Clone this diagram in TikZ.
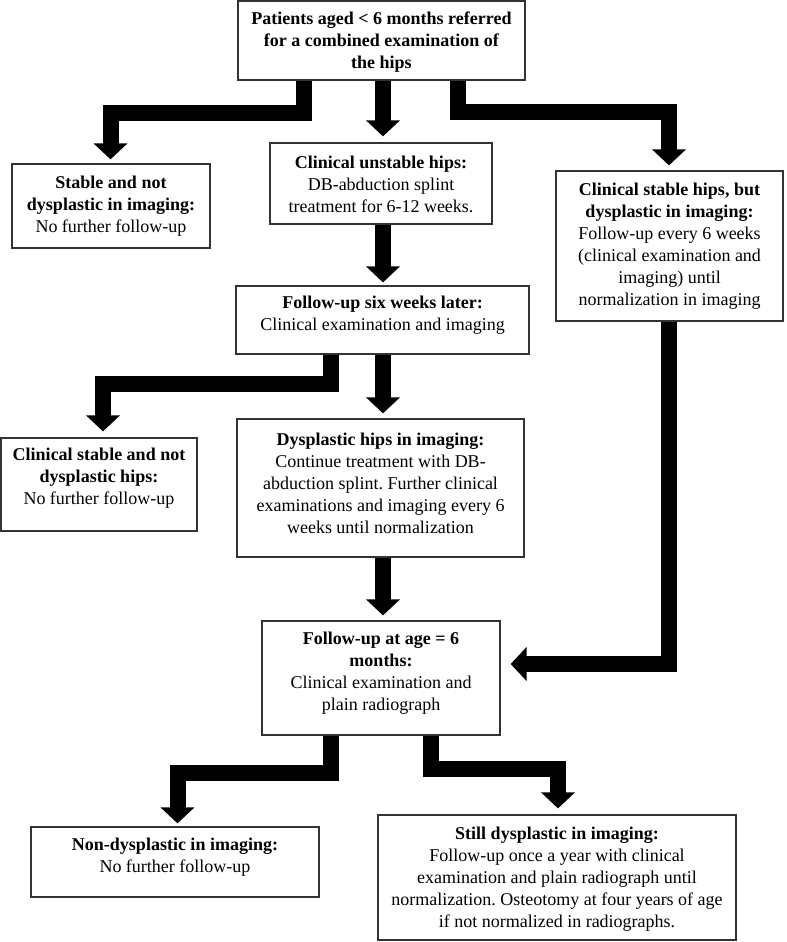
\documentclass[tikz,border=0pt]{standalone}
\usepackage{fontspec}
\setmainfont{Liberation Serif}
\usetikzlibrary{arrows.meta}
\frenchspacing
\begin{document}
\begin{tikzpicture}[x=0.75pt,y=-0.75pt,
  boxnode/.style={draw=black!80,line width=0.9pt,inner sep=0pt,fill=none},
  txt/.style={align=center,inner sep=0pt,font=\fontsize{13.5}{16.5}\selectfont},
  blk/.style={line width=12pt,line join=miter,-{Triangle[width=24.75pt,length=12pt]}}]
\useasboundingbox (0,0) rectangle (787,942);
% boxes
\node[boxnode,minimum width=287*0.75pt,minimum height=79*0.75pt] (top) at (381.5,40.5) {};
\node[boxnode,minimum width=198*0.75pt,minimum height=84*0.75pt] (stable) at (111,206) {};
\node[boxnode,minimum width=222*0.75pt,minimum height=81*0.75pt] (unstable) at (381,183.5) {};
\node[boxnode,minimum width=227*0.75pt,minimum height=150*0.75pt] (right) at (669.5,246) {};
\node[boxnode,minimum width=293*0.75pt,minimum height=68*0.75pt] (six) at (382.5,320) {};
\node[boxnode,minimum width=196*0.75pt,minimum height=93*0.75pt] (leftmid) at (99,484.5) {};
\node[boxnode,minimum width=287*0.75pt,minimum height=138*0.75pt] (dysp) at (380.5,488) {};
\node[boxnode,minimum width=238*0.75pt,minimum height=114*0.75pt] (sixm) at (381,678) {};
\node[boxnode,minimum width=288*0.75pt,minimum height=70*0.75pt] (nondys) at (175,862) {};
\node[boxnode,minimum width=358*0.75pt,minimum height=125*0.75pt] (still) at (557,877.5) {};
% texts
\node[txt] (ttop) at (381.5,42) {\textbf{Patients aged < 6 months referred}\\\textbf{for a combined examination of}\\\textbf{the hips}};
\node[txt] (tstable) at (111,206.5) {\textbf{Stable and not}\\\textbf{dysplastic in imaging:}\\No further follow-up};
\node[txt] (tunstable) at (381,184.5) {\textbf{Clinical unstable hips:}\\DB-abduction splint\\treatment for 6-12 weeks.};
\node[txt] (tright) at (669.5,246.5) {\textbf{Clinical stable hips, but}\\\textbf{dysplastic in imaging:}\\Follow-up every 6 weeks\\(clinical examination and\\imaging) until\\normalization in imaging};
\node[txt] (tsix) at (382.5,315.5) {\textbf{Follow-up six weeks later:}\\Clinical examination and imaging};
\node[txt] (tleftmid) at (99,478.5) {\textbf{Clinical stable and not}\\\textbf{dysplastic hips:}\\No further follow-up};
\node[txt] (tdysp) at (380.5,483) {\textbf{Dysplastic hips in imaging:}\\Continue treatment with DB-\\abduction splint. Further clinical\\examinations and imaging every 6\\weeks until normalization};
\node[txt] (tsixm) at (381,673) {\textbf{Follow-up at age = 6}\\\textbf{months:}\\Clinical examination and\\plain radiograph};
\node[txt] (tnondys) at (175,857) {\textbf{Non-dysplastic in imaging:}\\No further follow-up};
\node[txt] (tstill) at (557,879) {\textbf{Still dysplastic in imaging:}\\Follow-up once a year with clinical\\examination and plain radiograph until\\normalization. Osteotomy at four years of age\\if not normalized in radiographs.};
% bend coordinates
\coordinate (a1) at (303.5,113);
\coordinate (a2) at (110.5,113);
\coordinate (b1) at (383,0);
\coordinate (c1) at (457.5,111.5);
\coordinate (c2) at (669,111.5);
\coordinate (e1) at (330.5,383.5);
\coordinate (e2) at (103,383.5);
\coordinate (h1) at (669,664);
\coordinate (i1) at (330.5,772.5);
\coordinate (i2) at (177.5,772.5);
\coordinate (j1) at (430.5,769);
\coordinate (j2) at (558,769);
% arrows
\draw[blk,shorten >=3pt] (top.south -| a1) -- (a1) -- (a2) -- (stable.north -| a2);
\draw[blk,shorten >=4.5pt] (top.south -| b1) -- (unstable.north -| b1);
\draw[blk,shorten >=3.75pt] (top.south -| c1) -- (c1) -- (c2) -- (right.north -| c2);
\draw[blk,shorten >=2.25pt] (unstable.south -| b1) -- (six.north -| b1);
\draw[blk,shorten >=4.5pt] (six.south -| e1) -- (e1) -- (e2) -- (leftmid.north -| e2);
\draw[blk,shorten >=3.75pt] (six.south -| b1) -- (dysp.north -| b1);
\draw[blk,shorten >=3.75pt] (dysp.south -| b1) -- (sixm.north -| b1);
\draw[blk,shorten >=7.5pt] (right.south -| h1) -- (h1) -- (sixm.east |- h1);
\draw[blk,shorten >=2.25pt] (sixm.south -| i1) -- (i1) -- (i2) -- (nondys.north -| i2);
\draw[blk,shorten >=4.5pt] (sixm.south -| j1) -- (j1) -- (j2) -- (still.north -| j2);
\end{tikzpicture}
\end{document}
